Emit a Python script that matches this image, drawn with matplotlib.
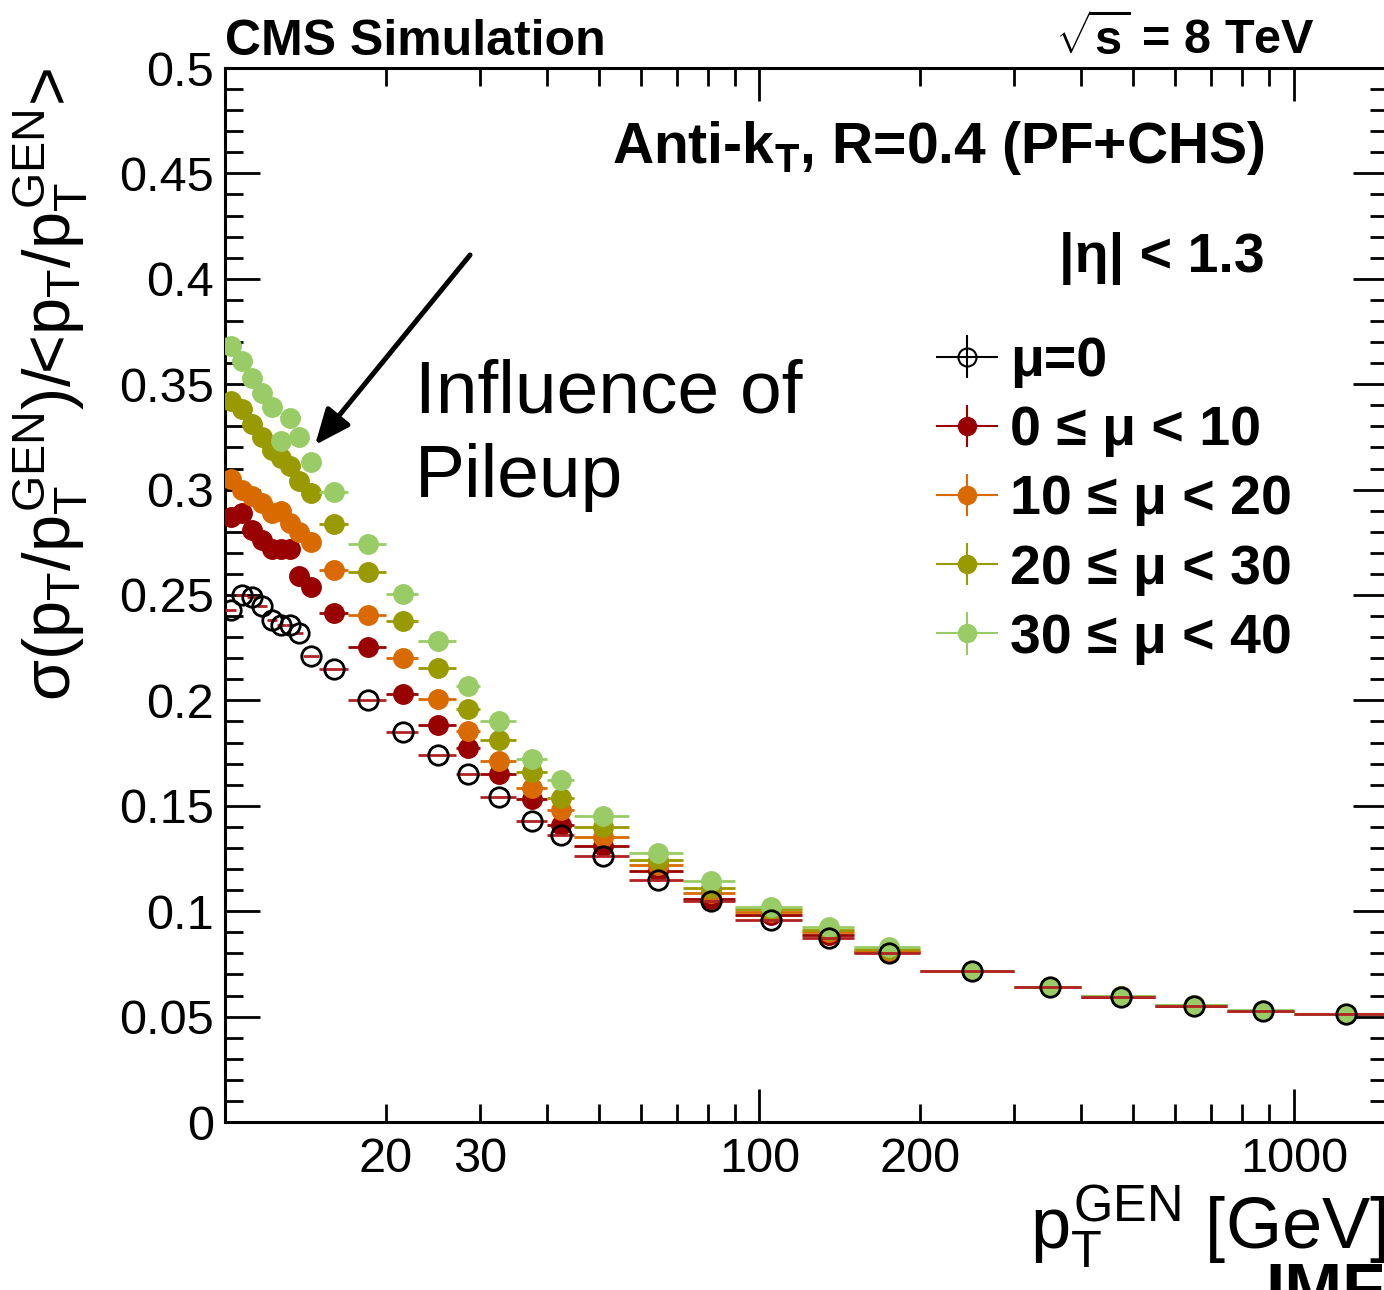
import numpy as np
import matplotlib
matplotlib.use('Agg')
import matplotlib.pyplot as plt
from matplotlib.ticker import FixedLocator, MultipleLocator, FuncFormatter
from matplotlib.container import ErrorbarContainer
from matplotlib.legend_handler import HandlerErrorbar

plt.rcParams.update({
    'font.family': ['Liberation Sans', 'DejaVu Sans'],
    'mathtext.fontset': 'custom',
    'mathtext.rm': 'Liberation Sans',
    'mathtext.it': 'Liberation Sans',
    'mathtext.bf': 'Liberation Sans:bold',
    'mathtext.sf': 'Liberation Sans',
    'axes.linewidth': 2.2,
})

# pT bins (GeV)
bin_edges = [10, 10.5, 11, 11.5, 12, 12.5, 13, 13.5, 14, 15, 17, 20, 23, 27, 30, 35,
             40, 45, 57, 72, 90, 120, 150, 200, 300, 400, 550, 750, 1000, 1500]

# relative jet pT resolution per pileup bin
res_mu0 = [0.243, 0.250, 0.249, 0.245, 0.238, 0.236, 0.236, 0.232, 0.221, 0.215,
           0.200, 0.185, 0.174, 0.165, 0.154, 0.143, 0.136, 0.126, 0.115, 0.105,
           0.096, 0.0875, 0.080, 0.0714, 0.064, 0.0595, 0.0552, 0.0527, 0.0511]
res_0_10 = [0.287, 0.289, 0.281, 0.276, 0.272, 0.272, 0.272, 0.259, 0.254, 0.2415,
            0.2255, 0.203, 0.1885, 0.1775, 0.165, 0.153, 0.141, 0.131, 0.119, 0.1057,
            0.0982, 0.0887, 0.0806, 0.0715, 0.064, 0.0595, 0.0552, 0.0527, 0.0511]
res_10_20 = [0.305, 0.300, 0.297, 0.2935, 0.289, 0.290, 0.284, 0.280, 0.275, 0.262,
             0.2405, 0.220, 0.2005, 0.1853, 0.1714, 0.1584, 0.1478, 0.135, 0.122, 0.1087,
             0.0995, 0.090, 0.0812, 0.0716, 0.0641, 0.0596, 0.0553, 0.0528, 0.0512]
res_20_30 = [0.342, 0.338, 0.331, 0.325, 0.319, 0.315, 0.311, 0.304, 0.2985, 0.2835,
             0.261, 0.2375, 0.2155, 0.196, 0.181, 0.166, 0.1537, 0.140, 0.1244, 0.111,
             0.101, 0.0912, 0.082, 0.0717, 0.0641, 0.0596, 0.0553, 0.0528, 0.0512]
res_30_40 = [0.368, 0.361, 0.353, 0.346, 0.339, 0.323, 0.334, 0.325, 0.313, 0.299,
             0.274, 0.2505, 0.2282, 0.207, 0.190, 0.1722, 0.1621, 0.145, 0.1276, 0.1141,
             0.1022, 0.0926, 0.0831, 0.0718, 0.0642, 0.0597, 0.0554, 0.0529, 0.0513]

labels = ['μ=0', '0 ≤ μ < 10', '10 ≤ μ < 20', '20 ≤ μ < 30', '30 ≤ μ < 40']
colors = ['black', '#990000', '#d96a00', '#999900', '#99cc66']

edges = np.array(bin_edges)
centers = 0.5 * (edges[:-1] + edges[1:])
xerr = [centers - edges[:-1], edges[1:] - centers]

fig = plt.figure(figsize=(13.84, 12.9), dpi=100)
ax = fig.add_axes([225 / 1384, 168 / 1290, 1163 / 1384, 1054 / 1290])

# colored pileup bins, lowest first so the high-pileup points sit on top
series = [res_0_10, res_10_20, res_20_30, res_30_40]
for i, vals in enumerate(series):
    ax.errorbar(centers, vals, xerr=xerr, fmt='o', ms=14, color=colors[i + 1],
                mec=colors[i + 1], elinewidth=2, capsize=0, zorder=3 + i)
# no pileup: open circles on top
ax.errorbar(centers, res_mu0, xerr=xerr, fmt='o', ms=14, mfc='none', mec='black',
            mew=2, ecolor='#b22222', elinewidth=2, capsize=0, zorder=8)

ax.set_xscale('log')
ax.set_xlim(10, 1500)
ax.set_ylim(0, 0.5)

ax.xaxis.set_major_locator(FixedLocator([10, 100, 1000]))
ax.xaxis.set_minor_locator(FixedLocator([20, 30, 40, 50, 60, 70, 80, 90,
                                         200, 300, 400, 500, 600, 700, 800, 900]))
ax.xaxis.set_major_formatter(FuncFormatter(lambda v, p: '' if v < 50 else '%d' % v))
ax.xaxis.set_minor_formatter(FuncFormatter(lambda v, p: '%d' % v if v in (20, 30, 200) else ''))
ax.yaxis.set_major_locator(MultipleLocator(0.05))
ax.yaxis.set_minor_locator(MultipleLocator(0.01))
ax.yaxis.set_major_formatter(FuncFormatter(lambda v, p: '0' if abs(v) < 1e-9 else '%g' % round(v, 3)))

ax.tick_params(which='both', direction='in', top=True, right=True, width=2, labelsize=35)
ax.xaxis.set_tick_params(which='major', length=24, pad=11)
ax.xaxis.set_tick_params(which='minor', length=13, pad=11)
ax.yaxis.set_tick_params(which='major', length=25, pad=8)
ax.yaxis.set_tick_params(which='minor', length=13, pad=8)

# axis titles (ROOT style, aligned to the ends)
fig.text(1030 / 1384, 1 - 1248 / 1290, r'$p_{T}^{GEN}$ [GeV]', fontsize=52,
         ha='left', va='baseline')
fig.text(0.051, 1 - 68 / 1290, r'σ($p_{T}/p_{T}^{GEN}$)/<$p_{T}/p_{T}^{GEN}$>',
         fontsize=48, rotation=90, rotation_mode='anchor', ha='right', va='baseline')

fig.text(225 / 1384, 1 - 55 / 1290, 'CMS Simulation', fontsize=36, weight='bold',
         ha='left', va='baseline')
fig.text(1315 / 1384, 1 - 55 / 1290, r'$\sqrt{\mathbf{s}}$ = 8 TeV', fontsize=35,
         weight='bold', ha='right', va='baseline')
fig.text(1265 / 1384, 1 - 1311 / 1290, 'IMF', fontsize=50, weight='bold',
         ha='left', va='baseline')

ax.text(0.894, 0.91, r'Anti-k$_{\mathbf{T}}$, R=0.4 (PF+CHS)', transform=ax.transAxes,
        fontsize=41, weight='bold', ha='right', va='baseline')
ax.text(0.894, 0.806, '|η| < 1.3', transform=ax.transAxes,
        fontsize=40, weight='bold', ha='right', va='baseline')

ax.text(0.163, 0.6727, 'Influence of', transform=ax.transAxes, fontsize=54,
        ha='left', va='baseline')
ax.text(0.163, 0.593, 'Pileup', transform=ax.transAxes, fontsize=54,
        ha='left', va='baseline')
ax.annotate('', xy=(0.0774, 0.6423), xytext=(0.2107, 0.8226),
            xycoords='axes fraction', textcoords='axes fraction',
            arrowprops=dict(arrowstyle='-|>,head_length=0.4,head_width=0.17',
                            lw=3.6, color='black', mutation_scale=54,
                            shrinkA=0, shrinkB=0))

# legend proxies (mu=0 drawn with black bars in the legend)
handles = [ax.errorbar([np.nan], [np.nan], xerr=[1], yerr=[1], fmt='o', ms=13,
                       mfc='none', mec='black', mew=1.5, ecolor='black', elinewidth=1.5)]
for c in colors[1:]:
    handles.append(ax.errorbar([np.nan], [np.nan], xerr=[1], yerr=[1], fmt='o', ms=13,
                               color=c, mec=c, elinewidth=1.5))
ax.legend(handles, labels, loc='upper left', bbox_to_anchor=(935 / 1384, 1 - 336 / 1290),
          bbox_transform=fig.transFigure, frameon=False,
          prop={'size': 40, 'weight': 'bold'}, handlelength=1.15, handletextpad=0.2,
          labelspacing=0.31, borderpad=0, borderaxespad=0,
          handler_map={ErrorbarContainer: HandlerErrorbar(xerr_size=0.56, yerr_size=0.38)})

fig.savefig('out.png', dpi=100, facecolor='white')
